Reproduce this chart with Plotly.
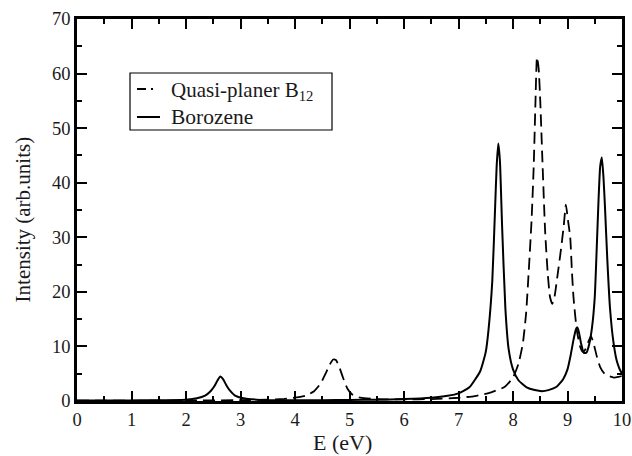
import plotly.graph_objects as go

# Borozene (solid)
bor_x = [0, 0.5, 1.0, 1.5, 2.0, 2.2, 2.35, 2.45, 2.52, 2.58, 2.63, 2.68, 2.74, 2.8, 2.9, 3.05, 3.3, 3.6,
         4.0, 4.5, 5.0, 5.5, 6.0, 6.5, 6.8, 7.0, 7.2, 7.4, 7.5, 7.55, 7.62, 7.67, 7.70, 7.73, 7.76, 7.80,
         7.86, 7.92, 8.0, 8.1, 8.25, 8.4, 8.53, 8.65, 8.8, 8.92, 9.0, 9.06, 9.11, 9.15, 9.18, 9.21, 9.25,
         9.3, 9.35, 9.4, 9.45, 9.5, 9.54, 9.57, 9.6, 9.63, 9.66, 9.69, 9.73, 9.78, 9.84, 9.9, 9.95, 10.0]
bor_y = [0.1, 0.1, 0.1, 0.15, 0.25, 0.5, 1.0, 1.8, 2.7, 3.8, 4.5, 4.0, 2.9, 2.0, 1.0, 0.5, 0.25, 0.15,
         0.12, 0.15, 0.2, 0.25, 0.35, 0.6, 0.95, 1.4, 2.5, 5.5, 9.0, 13.0, 22.0, 35.0, 43.0, 47.2, 44.0, 32.0,
         17.0, 9.5, 5.8, 3.8, 2.5, 2.0, 1.8, 2.0, 2.6, 4.0, 5.8, 8.5, 11.2, 13.0, 13.5, 12.6, 10.5,
         8.8, 8.9, 10.5, 13.5, 19.0, 29.0, 37.0, 43.0, 44.6, 41.0, 35.0, 26.0, 17.0, 11.0, 7.5, 6.0, 5.0]

# Quasi-planer B12 (dashed)
qp_x = [0, 1.0, 2.0, 3.0, 3.5, 3.8, 4.0, 4.2, 4.35, 4.47, 4.57, 4.64, 4.70, 4.75, 4.81, 4.88, 4.96, 5.05,
        5.2, 5.5, 6.0, 6.5, 7.0, 7.3, 7.6, 7.85, 8.0, 8.1, 8.18, 8.24, 8.29, 8.34, 8.38, 8.41, 8.44, 8.47,
        8.50, 8.54, 8.59, 8.64, 8.68, 8.72, 8.76, 8.81, 8.87, 8.93, 8.97, 9.01, 9.05, 9.08, 9.11, 9.17,
        9.23, 9.28, 9.33, 9.38, 9.43, 9.48, 9.54, 9.6, 9.67, 9.75, 9.85, 9.93, 10.0]
qp_y = [0.05, 0.05, 0.08, 0.15, 0.25, 0.4, 0.6, 1.0, 1.8, 3.2, 5.2, 6.7, 7.6, 7.5, 6.3, 4.3, 2.3, 1.2,
        0.6, 0.35, 0.3, 0.35, 0.6, 0.9, 1.6, 2.6, 4.3, 6.8, 10.5, 16.0, 24.0, 33.0, 43.0, 54.0, 63.0, 61.0,
        55.0, 44.0, 31.0, 23.0, 19.0, 17.8, 19.0, 22.5, 27.0, 32.0, 36.0, 33.0, 30.0, 24.0, 19.0, 13.0,
        10.0, 9.0, 9.5, 10.8, 11.9, 10.5, 8.1, 6.2, 5.1, 4.6, 4.3, 4.4, 4.6]

series_names = ["Quasi-planer B<sub>12</sub>", "Borozene"]
x_ticks = list(range(0, 11))
y_ticks = list(range(0, 71, 10))

FONT = "Liberation Serif"
TXT = "#1a1a1a"

# plot area in pixels (for placing legend pieces in paper coordinates)
L, R, T, B = 77, 622, 19, 401
def px(xp):
    return (xp - L) / (R - L)
def py(yp):
    return (B - yp) / (B - T)

fig = go.Figure()
fig.add_trace(go.Scatter(
    x=qp_x, y=qp_y, mode="lines", name=series_names[0], showlegend=False,
    line=dict(color="black", width=1.8, dash="12px,6px", shape="spline", smoothing=0.5)))
fig.add_trace(go.Scatter(
    x=bor_x, y=bor_y, mode="lines", name=series_names[1], showlegend=False,
    line=dict(color="black", width=2, shape="spline", smoothing=0.5)))

axis_common = dict(
    showgrid=False, zeroline=False, showline=True, linecolor="black", linewidth=2.5,
    mirror="ticks", ticks="inside", ticklen=10, tickwidth=1.5, tickcolor="black",
    tickfont=dict(family=FONT, size=18.5, color=TXT), automargin=False,
)

fig.update_xaxes(range=[0, 10], tickvals=x_ticks, ticktext=[str(v) for v in x_ticks],
                 minor=dict(ticks="inside", ticklen=5, tickwidth=1.5, tickcolor="black", dtick=0.5),
                 **axis_common)
fig.update_yaxes(range=[0, 70], tickvals=y_ticks, ticktext=[str(v) for v in y_ticks],
                 minor=dict(ticks="inside", ticklen=5, tickwidth=1.5, tickcolor="black", dtick=5),
                 **axis_common)

# axis titles
fig.add_annotation(text="E (eV)", xref="paper", yref="paper", x=0.488, y=-0.109,
                   xanchor="center", yanchor="middle", showarrow=False,
                   font=dict(family=FONT, size=22, color=TXT))
fig.add_annotation(text="Intensity (arb.units)", xref="paper", yref="paper", x=-0.1, y=0.474,
                   xanchor="center", yanchor="middle", showarrow=False, textangle=-90,
                   font=dict(family=FONT, size=21, color=TXT))

# legend box
fig.add_shape(type="rect", xref="paper", yref="paper",
              x0=px(130), x1=px(332), y0=py(130), y1=py(73),
              line=dict(color="black", width=1.2), fillcolor="white", layer="below")
fig.add_shape(type="line", xref="paper", yref="paper",
              x0=px(137), x1=px(160), y0=py(89), y1=py(89),
              line=dict(color="black", width=1.8, dash="9px,5px,2px,20px"))
fig.add_shape(type="line", xref="paper", yref="paper",
              x0=px(137), x1=px(160), y0=py(117), y1=py(117),
              line=dict(color="black", width=2))
fig.add_annotation(text=series_names[0], xref="paper", yref="paper", x=px(169), y=py(91),
                   xanchor="left", yanchor="middle", showarrow=False,
                   font=dict(family=FONT, size=21, color=TXT))
fig.add_annotation(text=series_names[1], xref="paper", yref="paper", x=px(169), y=py(117),
                   xanchor="left", yanchor="middle", showarrow=False,
                   font=dict(family=FONT, size=21.5, color=TXT))

fig.update_layout(
    width=632, height=456,
    margin=dict(l=L, r=632 - R, t=T, b=456 - B),
    paper_bgcolor="white", plot_bgcolor="white",
    font=dict(family=FONT, color=TXT),
    showlegend=False,
)

fig.write_html("out.html", config={"displayModeBar": False},
               post_script="document.body.style.margin='0';document.body.style.overflow='hidden';")
